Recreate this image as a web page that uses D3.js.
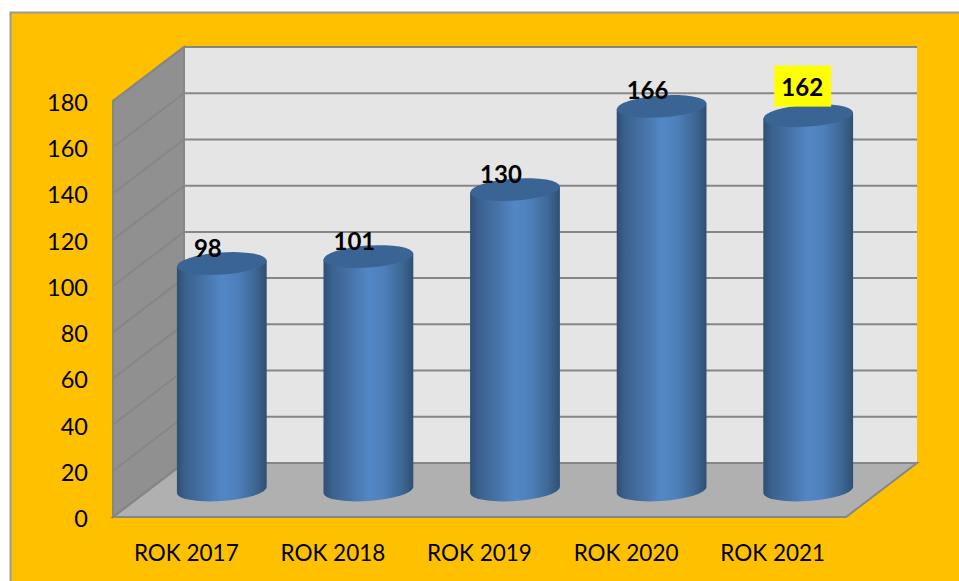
<!DOCTYPE html>
<meta charset="utf-8">
<style>
body { margin: 0; background: #fff; }
svg { display: block; }
text { font-family: Lato, "Open Sans", sans-serif; fill: #000; }
.tick-y { font-size: 23.5px; text-anchor: end; }
.tick-x { font-size: 22.5px; text-anchor: middle; }
.val { font-size: 24px; font-weight: bold; text-anchor: middle; }
</style>
<svg width="959" height="581"></svg>
<script src="https://d3js.org/d3.v7.min.js"></script>
<script>

var years = ["ROK 2017", "ROK 2018", "ROK 2019", "ROK 2020", "ROK 2021"];
var values = [98, 101, 130, 166, 162];
var yTicks = [0, 20, 40, 60, 80, 100, 120, 140, 160, 180];

var svg = d3.select("svg");

// front plane of the fake 3d box, the back wall is shifted by depth
var depth = {x: 71, y: -54};
var x = d3.scaleBand().domain(years).range([113, 846]);
var y = d3.scaleLinear().domain([0, 180]).range([517, 101]);

var defs = svg.append("defs");
var grad = defs.append("linearGradient").attr("id", "cyl");
[[0, "#2f4f73"], [0.1, "#3b628f"], [0.32, "#4874aa"], [0.5, "#5287c6"], [0.68, "#4d7fba"], [0.88, "#3d6693"], [1, "#2f4f73"]]
  .forEach(function(s) { grad.append("stop").attr("offset", s[0]).attr("stop-color", s[1]); });

// chart area
svg.append("rect").attr("x", 10.5).attr("y", 12.5).attr("width", 960).attr("height", 580)
    .attr("fill", "#ffc000").attr("stroke", "#999").attr("stroke-width", 2);

var x0 = x.range()[0], x1 = x.range()[1], yb = y(0), yt = y(180);
var line = d3.line();

// walls and floor
svg.append("path").attr("fill", "#e5e5e5")
    .attr("d", line([[x0 + depth.x, yt + depth.y], [x1 + depth.x, yt + depth.y], [x1 + depth.x, yb + depth.y], [x0 + depth.x, yb + depth.y]]) + "Z");
svg.append("path").attr("fill", "#909090").attr("stroke", "#868686").attr("stroke-width", 2)
    .attr("d", line([[x0, yt], [x0 + depth.x, yt + depth.y], [x0 + depth.x, yb + depth.y], [x0, yb]]) + "Z");
svg.append("path").attr("fill", "#b0b0b0").attr("stroke", "#868686").attr("stroke-width", 2)
    .attr("d", line([[x0, yb], [x1, yb], [x1 + depth.x, yb + depth.y], [x0 + depth.x, yb + depth.y]]) + "Z");

// gridlines
svg.append("g").selectAll("path").data(yTicks).join("path")
    .attr("fill", "none").attr("stroke", "#868686").attr("stroke-width", 2)
    .attr("d", function(d) {
      return line([[x0, y(d)], [x0 + depth.x, y(d) + depth.y], [x1 + depth.x, y(d) + depth.y]]);
    });

svg.append("g").selectAll("text").data(yTicks).join("text")
    .attr("class", "tick-y")
    .attr("x", 88)
    .attr("y", function(d) { return y(d) + 10; })
    .text(function(d) { return d; });

svg.append("g").selectAll("text").data(years).join("text")
    .attr("class", "tick-x")
    .attr("x", function(d) { return x(d) + x.bandwidth() / 2; })
    .attr("y", 561)
    .text(function(d) { return d; });

// cylinders, ellipses are tilted a bit like the excel 3d view
var rx = 45, ry = 11, tilt = -4;
var rad = tilt * Math.PI / 180;
var ex = Math.sqrt(rx * rx * Math.cos(rad) * Math.cos(rad) + ry * ry * Math.sin(rad) * Math.sin(rad));
var dy = rx * Math.tan(rad) * 0.92;

var bars = svg.append("g").selectAll("g").data(values).join("g")
    .attr("transform", function(d, i) {
      return "translate(" + (x(years[i]) + x.bandwidth() / 2 + depth.x / 2) + ",0)";
    });

bars.append("path")
    .attr("fill", "url(#cyl)")
    .attr("d", function(d) {
      var top = y(d) + depth.y / 2, bot = yb + depth.y / 2;
      return "M" + (-ex) + "," + (top - dy) + "L" + (-ex) + "," + (bot - dy) +
        "A" + rx + "," + ry + " " + tilt + " 0 0 " + ex + "," + (bot + dy) +
        "L" + ex + "," + (top + dy) + "Z";
    });

bars.append("ellipse")
    .attr("rx", rx).attr("ry", ry)
    .attr("fill", "#3a6493")
    .attr("transform", function(d) {
      return "translate(0," + (y(d) + depth.y / 2) + ") rotate(" + tilt + ")";
    });

// data labels, the last one was moved by hand and has a yellow box
var labelShift = [[-14, -7], [-14, -7], [-14, -7], [-14, -7], [-6, -20]];

var lastX = x(years[4]) + x.bandwidth() / 2 + depth.x / 2 + labelShift[4][0];
var lastY = y(values[4]) + depth.y / 2 + labelShift[4][1];
svg.append("rect").attr("x", lastX - 28).attr("y", lastY - 30).attr("width", 57).attr("height", 41).attr("fill", "#ffff00");

svg.append("g").selectAll("text").data(values).join("text")
    .attr("class", "val")
    .attr("x", function(d, i) { return x(years[i]) + x.bandwidth() / 2 + depth.x / 2 + labelShift[i][0]; })
    .attr("y", function(d, i) { return y(d) + depth.y / 2 + labelShift[i][1]; })
    .text(function(d) { return d; });

</script>
